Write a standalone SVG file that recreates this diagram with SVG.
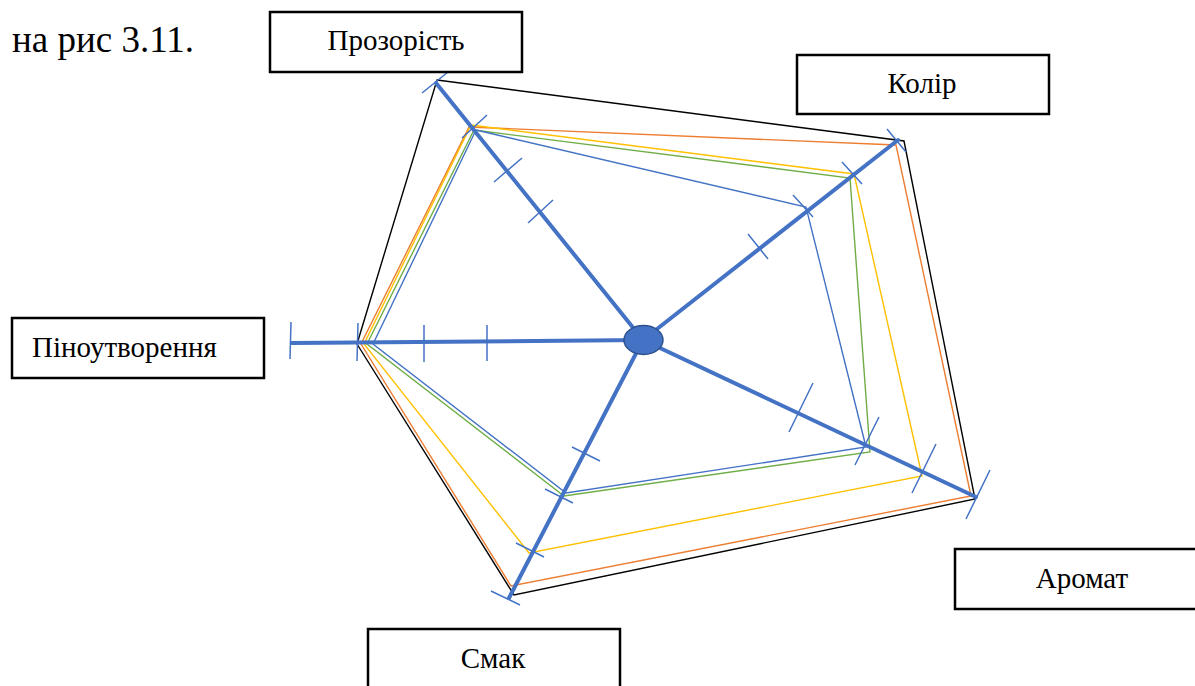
<svg xmlns="http://www.w3.org/2000/svg" width="1195" height="686" viewBox="0 0 1195 686">
<style>
.box{fill:#fff;stroke:#000;stroke-width:2.5}
.lbl{font-family:"Liberation Serif","Times New Roman",serif;font-size:29px;fill:#000}
.cap{font-family:"Liberation Serif","Times New Roman",serif;font-size:37px;fill:#000}
.axis{stroke:#4472C4;stroke-width:4;fill:none;stroke-linecap:round}
.tick{stroke:#4472C4;stroke-width:1.5;fill:none}
.poly{fill:none;stroke-width:1.4;stroke-linejoin:miter}
</style>
<rect width="1195" height="686" fill="#fff"/>
<text class="cap" x="12" y="52">на рис 3.11.</text>

<g id="chart">
<polygon class="poly" stroke="#000" points="437,80 904,141 975,499 514,595 357,344"/>
<polygon class="poly" stroke="#ED7D31" points="469,127 896,145 971,496 511,586 361,344"/>
<polygon class="poly" stroke="#FFC000" points="471,125 854,174 922,476 529,553 364,344"/>
<polygon class="poly" stroke="#70AD47" points="474,130 850,178 870,452 564,496 367,344"/>
<polygon class="poly" stroke="#4472C4" points="476,130 806,207 866,447 566,493 373,344"/>
</g>

<g id="connectors">
<line class="axis" x1="643" y1="340" x2="292" y2="343"/>
<line class="axis" x1="643" y1="340" x2="436" y2="83"/>
<line class="axis" x1="643" y1="340" x2="898" y2="140"/>
<line class="axis" x1="643" y1="340" x2="976" y2="497"/>
<line class="axis" x1="643" y1="340" x2="509" y2="598"/>
<path class="tick" d="M291,322L290,359M358,323L357,361M424,325L424,362M487,325L487,361"/>
<path class="tick" d="M422,93L448,72M462,138L487,115M494,182L522,158M528,223L553,200"/>
<path class="tick" d="M887,129L906,152M842,162L862,184M793,195L813,217M748,234L768,259"/>
<path class="tick" d="M813,383L789,432M879,417L855,465M936,444L912,493M990,470L966,519"/>
<path class="tick" d="M572,447L600,461M545,489L573,503M516,543L544,557M491,591L520,605"/>
</g>

<g id="center">
<ellipse cx="643.5" cy="340" rx="19.5" ry="14.5" fill="#4472C4" stroke="#2F528F" stroke-width="1.5"/>
</g>

<g id="node-prozorist">
<rect class="box" x="270" y="12" width="252" height="60"/>
<text class="lbl" x="396" y="50" text-anchor="middle">Прозорість</text>
</g>
<g id="node-kolir">
<rect class="box" x="797" y="55" width="252" height="59"/>
<text class="lbl" x="922" y="93" text-anchor="middle">Колір</text>
</g>
<g id="node-pinoutvorennia">
<rect class="box" x="12" y="318" width="252" height="60"/>
<text class="lbl" x="32" y="357">Піноутворення</text>
</g>
<g id="node-aromat">
<rect class="box" x="955" y="549" width="252" height="60"/>
<text class="lbl" x="1082" y="588" text-anchor="middle">Аромат</text>
</g>
<g id="node-smak">
<rect class="box" x="368" y="629" width="252" height="60"/>
<text class="lbl" x="493" y="668" text-anchor="middle">Смак</text>
</g>
</svg>
